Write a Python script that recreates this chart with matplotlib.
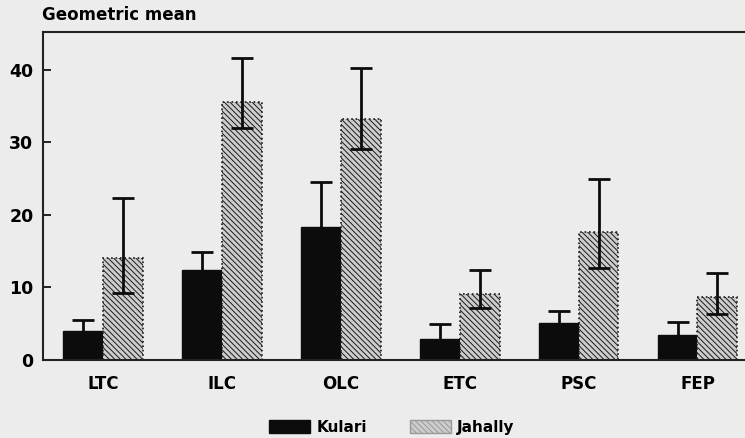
import matplotlib.pyplot as plt
import numpy as np
from matplotlib.patches import Patch

categories = ["LTC", "ILC", "OLC", "ETC", "PSC", "FEP"]

kulari_mean = [4.0, 12.4, 18.3, 2.9, 5.1, 3.4]
kulari_upper = [5.5, 14.9, 24.5, 5.0, 6.8, 5.2]
kulari_lower = [2.9, 10.3, 13.7, 1.7, 3.8, 2.2]

jahally_mean = [14.1, 35.6, 33.2, 9.1, 17.7, 8.7]
jahally_upper = [22.3, 41.6, 40.3, 12.4, 25.0, 12.0]
jahally_lower = [9.2, 32.0, 29.1, 7.2, 12.7, 6.3]

series_names = ["Kulari", "Jahally"]
y_ticks = [0, 10, 20, 30, 40]


def draw_chart(path: str) -> None:
    """
    Рисует сгруппированную гистограмму с асимметричными погрешностями
    """
    bg = "#ececec"
    ink = "#0c0c0c"
    font = "DejaVu Sans"
    plt.rcParams["hatch.color"] = "#4a4a4a"
    plt.rcParams["hatch.linewidth"] = 0.7

    fig = plt.figure(figsize=(7.45, 4.38), dpi=100, facecolor=bg)
    ax = fig.add_axes([0.058, 0.178, 0.942, 0.749], facecolor=bg)

    x = np.arange(len(categories))
    w = 0.335

    k_mean = np.array(kulari_mean)
    k_err = [k_mean - np.array(kulari_lower), np.array(kulari_upper) - k_mean]
    j_mean = np.array(jahally_mean)
    j_err = [j_mean - np.array(jahally_lower), np.array(jahally_upper) - j_mean]

    ax.bar(x - w / 2, k_mean, w, color=ink, edgecolor=ink, zorder=2)
    ax.bar(x + w / 2, j_mean, w, color="#cdcdcd", edgecolor="#1a1a1a",
           hatch="\\" * 6, linestyle=":", linewidth=1.2, zorder=2)

    ax.errorbar(x - w / 2, k_mean, yerr=k_err, fmt="none", ecolor=ink,
                elinewidth=2, capsize=8, capthick=2, zorder=3)
    ax.errorbar(x + w / 2, j_mean, yerr=j_err, fmt="none", ecolor=ink,
                elinewidth=2, capsize=8, capthick=2, zorder=3)

    ax.set_xlim(-0.505, 5.4)
    ax.set_ylim(0, 45.2)
    ax.set_yticks(y_ticks)
    ax.set_yticklabels([str(t) for t in y_ticks], fontsize=12.5,
                       fontweight="bold", family=font)
    ax.tick_params(axis="y", direction="in", length=6, width=1.2, pad=7)
    ax.set_xticks(x)
    ax.set_xticklabels(categories, fontsize=12, fontweight="bold",
                       family=font)
    ax.tick_params(axis="x", length=0, pad=11)

    ax.spines["right"].set_visible(False)
    for s in ["left", "bottom", "top"]:
        ax.spines[s].set_linewidth(1.5)
        ax.spines[s].set_color("#222222")

    fig.text(0.056, 0.965, "Geometric mean", fontsize=12, fontweight="bold",
             family=font, ha="left", va="center")

    handles = [Patch(facecolor=ink, edgecolor=ink),
               Patch(facecolor="#cdcdcd", edgecolor="#999999",
                     hatch="\\" * 6)]
    fig.legend(handles, series_names, loc="center",
               bbox_to_anchor=(0.526, 0.025), ncol=2, frameon=False,
               prop={"family": font, "weight": "bold", "size": 11},
               handlelength=2.7, handleheight=1.0, handletextpad=0.4,
               columnspacing=2.8, borderpad=0)

    fig.savefig(path, dpi=100, facecolor=bg)


if __name__ == "__main__":
    draw_chart("out.png")
